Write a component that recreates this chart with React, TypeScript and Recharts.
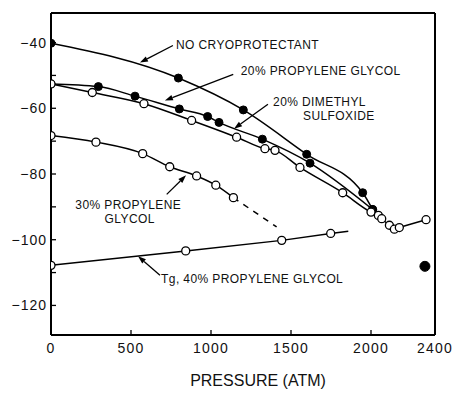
import React from 'react';
import { LineChart, Line, XAxis, YAxis, ReferenceLine, ReferenceDot } from 'recharts';

type Pt = { p: number; t: number };

// ---- tick values ----
const xTicks = [0, 500, 1000, 1500, 2000, 2400];
const yTicks = [-120, -110, -100, -90, -80, -70, -60, -50, -40];

// ---- series (pressure in atm, temperature in °C) ----
const noCryo: Pt[] = [
  { p: 0, t: -40.2 },
  { p: 796, t: -50.8 },
  { p: 1202, t: -60.5 },
  { p: 1598, t: -74.0 },
  { p: 1948, t: -85.7 },
  { p: 2010, t: -90.8 },
];

const propGlycol20: Pt[] = [
  { p: 0, t: -52.6 },
  { p: 296, t: -53.4 },
  { p: 525, t: -56.3 },
  { p: 802, t: -60.2 },
  { p: 979, t: -62.5 },
  { p: 1050, t: -64.3 },
  { p: 1321, t: -69.4 },
  { p: 1619, t: -76.7 },
  { p: 2010, t: -90.8 },
];

const dmso20: Pt[] = [
  { p: 0, t: -52.6 },
  { p: 258, t: -55.2 },
  { p: 581, t: -58.6 },
  { p: 879, t: -63.7 },
  { p: 1160, t: -68.8 },
  { p: 1337, t: -72.3 },
  { p: 1400, t: -72.8 },
  { p: 1556, t: -78.0 },
  { p: 1823, t: -85.7 },
  { p: 2000, t: -91.6 },
  { p: 2046, t: -92.6 },
  { p: 2067, t: -93.6 },
  { p: 2115, t: -95.6 },
  { p: 2146, t: -96.8 },
  { p: 2177, t: -96.3 },
  { p: 2344, t: -93.9 },
];

const propGlycol30: Pt[] = [
  { p: 0, t: -68.3 },
  { p: 281, t: -70.3 },
  { p: 573, t: -73.8 },
  { p: 742, t: -77.8 },
  { p: 910, t: -80.6 },
  { p: 1030, t: -83.4 },
  { p: 1140, t: -87.2 },
];

const propGlycol30Extrap: Pt[] = [
  { p: 1140, t: -87.2 },
  { p: 1410, t: -96.1 },
];

const tg40Points: Pt[] = [
  { p: 0, t: -107.8 },
  { p: 842, t: -103.4 },
  { p: 1442, t: -100.2 },
  { p: 1748, t: -98.1 },
];
const tg40LineEnd: Pt[] = [{ p: 1858, t: -97.4 }];

const isolatedPoint: Pt[] = [{ p: 2337, t: -108.1 }];

// ---- annotations (data coordinates) ----
const textLabels = [
  { p: 781, t: -40.6, text: 'NO CRYOPROTECTANT', anchor: 'start' },
  { p: 1186, t: -48.5, text: '20% PROPYLENE GLYCOL', anchor: 'start' },
  { p: 1388, t: -58.1, text: '20% DIMETHYL', anchor: 'start' },
  { p: 1575, t: -62.2, text: 'SULFOXIDE', anchor: 'start' },
  { p: 483, t: -89.2, text: '30% PROPYLENE', anchor: 'middle' },
  { p: 492, t: -93.6, text: 'GLYCOL', anchor: 'middle' },
  { p: 688, t: -112.0, text: 'Tg, 40% PROPYLENE GLYCOL', anchor: 'start' },
];

const arrows = [
  { from: { p: 762, t: -40.9 }, to: { p: 556, t: -46.1 } },
  { from: { p: 1139, t: -49.7 }, to: { p: 712, t: -57.6 } },
  { from: { p: 1356, t: -58.8 }, to: { p: 1144, t: -66.2 } },
  { from: { p: 723, t: -86.2 }, to: { p: 844, t: -80.4 } },
  { from: { p: 681, t: -110.8 }, to: { p: 544, t: -105.0 } },
];

const FONT = '"Liberation Sans", Arial, Helvetica, sans-serif';

const openDot = { r: 4, fill: '#fff', stroke: '#000', strokeWidth: 1.3 };
const filledDot = { r: 4, fill: '#000', stroke: '#000', strokeWidth: 1 };

const ArrowShape = (props: any) => {
  const { x1, y1, x2, y2 } = props;
  const ang = Math.atan2(y2 - y1, x2 - x1);
  const L = 8;
  const W = 2.8;
  const bx = x2 - L * Math.cos(ang);
  const by = y2 - L * Math.sin(ang);
  const px = -Math.sin(ang) * W;
  const py = Math.cos(ang) * W;
  return (
    <g>
      <line x1={x1} y1={y1} x2={bx} y2={by} stroke="#000" strokeWidth={1.3} />
      <polygon points={`${x2},${y2} ${bx + px},${by + py} ${bx - px},${by - py}`} fill="#000" />
    </g>
  );
};

const makeTextShape = (text: string, anchor: string) => (props: any) => (
  <text
    x={props.cx}
    y={props.cy}
    dy="0.36em"
    textAnchor={anchor}
    fontFamily={FONT}
    fontSize={12}
    letterSpacing={0.4}
    fill="#111"
  >
    {text}
  </text>
);

const AxisTitle = (props: any) => {
  const vb = props.viewBox || { x: 51, y: 335, width: 384, height: 58 };
  return (
    <text
      x={vb.x + vb.width / 2 + 15}
      y={vb.y + 51}
      textAnchor="middle"
      fontFamily={FONT}
      fontSize={16}
      fill="#111"
    >
      PRESSURE (ATM)
    </text>
  );
};

const TgDot = (props: any) => {
  const { cx, cy, index } = props;
  if (index >= tg40Points.length) return <g key={`tg-${index}`} />;
  return <circle key={`tg-${index}`} cx={cx} cy={cy} r={4} fill="#fff" stroke="#000" strokeWidth={1.3} />;
};

const yFmt = (v: number) => (v % 20 === 0 ? `\u2212${Math.abs(v)}` : '');

export default function App() {
  return (
    <div style={{ position: 'absolute', left: 0, top: 0, width: 455, height: 393, background: '#fff' }}>
      <LineChart width={455} height={393} margin={{ top: 13, right: 20, bottom: 0, left: 0 }}>
        <XAxis
          dataKey="p"
          type="number"
          domain={[0, 2400]}
          ticks={xTicks}
          allowDataOverflow
          height={58}
          tickSize={-5}
          tickMargin={13}
          axisLine={{ stroke: '#000', strokeWidth: 2 }}
          tickLine={{ stroke: '#000', strokeWidth: 1.3 }}
          tick={{ fill: '#111', fontSize: 14, fontFamily: FONT, letterSpacing: 1.2 }}
          label={<AxisTitle />}
        />
        <YAxis
          type="number"
          domain={[-129, -31]}
          ticks={yTicks}
          allowDataOverflow
          width={51}
          tickSize={-5}
          tickMargin={9}
          tickFormatter={yFmt}
          interval={0}
          axisLine={{ stroke: '#000', strokeWidth: 2 }}
          tickLine={{ stroke: '#000', strokeWidth: 1.3 }}
          tick={{ fill: '#111', fontSize: 14, fontFamily: FONT, letterSpacing: 1 }}
        />
        <ReferenceLine y={-31} stroke="#000" strokeWidth={2} />
        <ReferenceLine x={2400} stroke="#000" strokeWidth={2} />

        <Line data={noCryo} dataKey="t" type="monotone" stroke="#000" strokeWidth={1.5} dot={filledDot} isAnimationActive={false} />
        <Line data={propGlycol20} dataKey="t" type="monotone" stroke="#000" strokeWidth={1.5} dot={filledDot} isAnimationActive={false} />
        <Line data={dmso20} dataKey="t" type="monotone" stroke="#000" strokeWidth={1.5} dot={openDot} isAnimationActive={false} />
        <Line data={propGlycol30} dataKey="t" type="monotone" stroke="#000" strokeWidth={1.5} dot={openDot} isAnimationActive={false} />
        <Line data={propGlycol30Extrap} dataKey="t" type="linear" stroke="#000" strokeWidth={1.5} strokeDasharray="6 6" dot={false} isAnimationActive={false} />
        <Line data={[...tg40Points, ...tg40LineEnd]} dataKey="t" type="linear" stroke="#000" strokeWidth={1.5} dot={TgDot} isAnimationActive={false} />
        <Line data={isolatedPoint} dataKey="t" type="linear" stroke="none" dot={{ r: 5, fill: '#000', stroke: '#000' }} isAnimationActive={false} />

        {arrows.map((a, i) => (
          <ReferenceLine
            key={`arrow-${i}`}
            segment={[{ x: a.from.p, y: a.from.t }, { x: a.to.p, y: a.to.t }]}
            shape={ArrowShape}
          />
        ))}
        {textLabels.map((l, i) => (
          <ReferenceDot key={`lbl-${i}`} x={l.p} y={l.t} r={0} shape={makeTextShape(l.text, l.anchor)} />
        ))}
      </LineChart>
    </div>
  );
}
